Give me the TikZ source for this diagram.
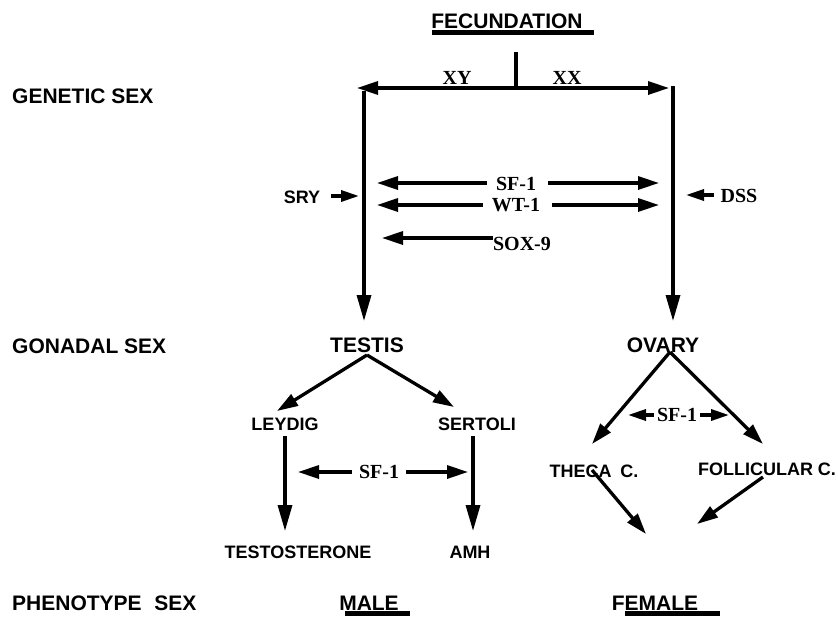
\documentclass[tikz,border=0pt]{standalone}
\usepackage{fontspec}
\setmainfont{Liberation Serif}
\newfontfamily\hv{Liberation Sans}
\usetikzlibrary{arrows.meta}
\begin{document}
\begin{tikzpicture}[x=1pt,y=-1pt,
  lab/.style={font=\hv\bfseries\fontsize{21}{21}\selectfont, inner sep=0pt, anchor=base},
  sublab/.style={font=\hv\bfseries\fontsize{18}{18}\selectfont, inner sep=0pt, anchor=base},
  ser/.style={font=\bfseries\fontsize{20}{20}\selectfont, inner sep=0pt},
  arr/.style={line width=3.3pt, -{Triangle[length=21pt,width=13pt]}},
  bigarr/.style={line width=3.3pt, -{Triangle[length=26pt,width=14pt]}},
  sarr/.style={line width=3.3pt, -{Triangle[length=18pt,width=11pt]}},
  dbl/.style={line width=3.3pt, {Triangle[length=21pt,width=13pt]}-{Triangle[length=21pt,width=13pt]}},
  plain/.style={line width=3.3pt},
  uline/.style={line width=5pt}]
\useasboundingbox (0,0) rectangle (838,616);

% left labels
\node[lab, anchor=base west] (gen) at (12,103) {GENETIC SEX};
\node[lab, anchor=base west] (gon) at (12,353) {GONADAL SEX};
\node[lab, anchor=base west] (phe) at (12,610) {PHENOTYPE\hspace{0.6em}SEX};

% fecundation
\node[lab] (fec) at (507,28) {FECUNDATION};
\coordinate (fecA) at (432,32);
\coordinate (fecB) at (594,32);
\draw[uline] (fecA) -- (fecB);
\coordinate (tickT) at (516,52);
\coordinate (tickB) at (516,88);
\draw[plain] (tickT) -- (tickB);
\coordinate (hL) at (357,88);
\coordinate (hR) at (669,88);
\draw[dbl] (hL) -- (hR);
\node[ser, anchor=base] (xy) at (457,84) {XY};
\node[ser, anchor=base] (xx) at (567,84) {XX};

% main verticals
\coordinate (vL) at (364,91);
\coordinate (vLb) at (364,321);
\coordinate (vR) at (673,86);
\coordinate (vRb) at (673,321);
\draw[bigarr] (vL) -- (vLb);
\draw[bigarr] (vR) -- (vRb);

% factors
\node[ser] (sf1) at (516,184) {SF-1};
\node[ser] (wt1) at (516,205) {WT-1};
\node[ser] (sox) at (522,244) {SOX-9};
\coordinate (sf1L) at (377,183);
\coordinate (sf1R) at (659,183);
\coordinate (wt1L) at (377,205);
\coordinate (wt1R) at (659,205);
\coordinate (soxL) at (382,238);
\draw[arr] (sf1.west |- sf1L) ++(-9,0) coordinate (sf1a) -- (sf1L);
\draw[arr] (sf1.east |- sf1R) ++(12,0) coordinate (sf1b) -- (sf1R);
\draw[arr] (wt1.west |- wt1L) ++(-9,0) coordinate (wt1a) -- (wt1L);
\draw[arr] (wt1.east |- wt1R) ++(12,0) coordinate (wt1b) -- (wt1R);
\draw[arr] (sox.west |- soxL) -- (soxL);

\node[sublab, anchor=center] (sry) at (302,197) {SRY};
\coordinate (sryA) at (331,196);
\coordinate (sryB) at (359,196);
\draw[sarr] (sryA) -- (sryB);
\node[ser] (dss) at (739,196) {DSS};
\coordinate (dssA) at (714,195);
\coordinate (dssB) at (686,195);
\draw[sarr] (dssA) -- (dssB);

% gonads
\node[lab] (testis) at (367,352) {TESTIS};
\node[lab] (ovary) at (663,352) {OVARY};

% male branch
\node[sublab] (leydig) at (285,430) {LEYDIG};
\node[sublab] (sertoli) at (477,430) {SERTOLI};
\coordinate (tApex) at (367,355);
\coordinate (tL) at (277,411);
\coordinate (tR) at (454,407);
\draw[arr] (tApex) -- (tL);
\draw[arr] (tApex) -- (tR);
\coordinate (lyT) at (285,436);
\coordinate (lyB) at (285,531);
\coordinate (seT) at (473,436);
\coordinate (seB) at (473,531);
\draw[bigarr] (lyT) -- (lyB);
\draw[bigarr] (seT) -- (seB);
\node[ser] (sf1m) at (379,472) {SF-1};
\coordinate (sfmL) at (298,472);
\coordinate (sfmR) at (468,472);
\draw[arr] (sf1m.west |- sfmL) ++(-7,0) coordinate (sfma) -- (sfmL);
\draw[arr] (sf1m.east |- sfmR) ++(7,0) coordinate (sfmb) -- (sfmR);
\node[sublab] (testo) at (298,558) {TESTOSTERONE};
\node[sublab] (amh) at (470,558) {AMH};

% female branch
\coordinate (oApex) at (670,352);
\coordinate (oL) at (592,444);
\coordinate (oR) at (763,444);
\draw[arr] (oApex) -- (oL);
\draw[arr] (oApex) -- (oR);
\node[ser] (sf1f) at (677,415) {SF-1};
\coordinate (sffL) at (628,415);
\coordinate (sffR) at (729,415);
\draw[sarr] (sf1f.west |- sffL) ++(-3,0) coordinate (sffa) -- (sffL);
\draw[sarr] (sf1f.east |- sffR) ++(3,0) coordinate (sffb) -- (sffR);
\node[sublab] (theca) at (594,477) {THECA\hspace{0.5em}C.};
\node[sublab] (foll) at (767,475) {FOLLICULAR C.};
\coordinate (thA) at (592,470);
\coordinate (thB) at (646,534);
\coordinate (foA) at (763,477);
\coordinate (foB) at (697,524);
\draw[arr] (thA) -- (thB);
\draw[arr] (foA) -- (foB);

% phenotypes
\node[lab] (male) at (369,610) {MALE};
\node[lab] (female) at (655,610) {FEMALE};
\coordinate (mA) at (345,613);
\coordinate (mB) at (410,613);
\coordinate (fA) at (625,613);
\coordinate (fB) at (720,613);
\draw[uline] (mA) -- (mB);
\draw[uline] (fA) -- (fB);
\end{tikzpicture}
\end{document}
